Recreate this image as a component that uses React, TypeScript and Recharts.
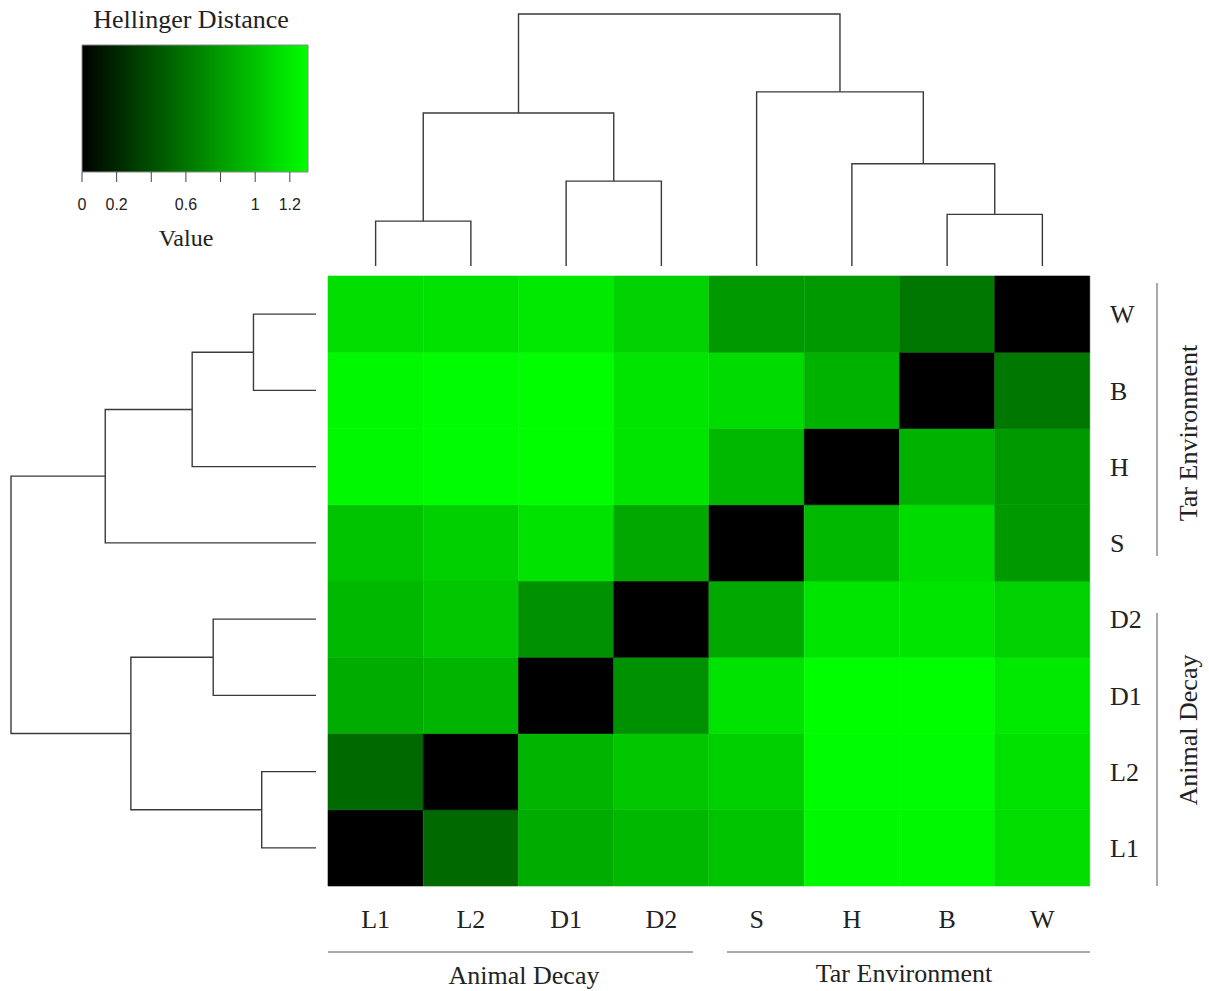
import React from "react"
import { BarChart, Bar, Cell, XAxis, YAxis, ScatterChart, Scatter, ComposedChart } from "recharts"

// samples, in the column order of the heatmap (rows use the same order, bottom to top)
const sampleLabels = ["L1", "L2", "D1", "D2", "S", "H", "B", "W"]

// Hellinger distances of each sample to L1, L2, D1, D2, S, H, B, W
const distL1 = [0, 0.54, 0.88, 0.94, 1.0, 1.27, 1.27, 1.14]
const distL2 = [0.54, 0, 0.92, 1.02, 1.06, 1.29, 1.29, 1.15]
const distD1 = [0.88, 0.92, 0, 0.74, 1.16, 1.3, 1.3, 1.2]
const distD2 = [0.94, 1.02, 0.74, 0, 0.86, 1.17, 1.17, 1.07]
const distS = [1.0, 1.06, 1.16, 0.86, 0, 0.94, 1.12, 0.79]
const distH = [1.27, 1.29, 1.3, 1.17, 0.94, 0, 0.91, 0.79]
const distB = [1.27, 1.29, 1.3, 1.17, 1.12, 0.91, 0, 0.61]
const distW = [1.14, 1.15, 1.2, 1.07, 0.79, 0.79, 0.61, 0]
const distRows = [distL1, distL2, distD1, distD2, distS, distH, distB, distW]

// cluster merges: [name, left, right, relative height]
const merges: [string, string, string, number][] = [
    ["L", "L1", "L2", 0.178],
    ["D", "D1", "D2", 0.337],
    ["LD", "L", "D", 0.607],
    ["BW", "B", "W", 0.205],
    ["HBW", "H", "BW", 0.406],
    ["T", "S", "HBW", 0.691],
    ["root", "LD", "T", 1.0],
]

const legendTicks = [0, 0.2, 0.4, 0.6, 0.8, 1, 1.2]
const legendLabelled = [0, 0.2, 0.6, 1, 1.2]
const scaleMax = 1.305

const serif = "'Liberation Serif', 'Times New Roman', serif"
const sans = "'Liberation Sans', Arial, sans-serif"
const ink = "#222"
const branch = "#3a3a3a"

const greenFor = (v: number) => `rgb(0, ${Math.round((255 * Math.min(v, scaleMax)) / scaleMax)}, 0)`

const heatData = sampleLabels.map((name) => {
    const row: Record<string, string | number> = { name }
    sampleLabels.forEach((s) => (row[s] = 1))
    return row
})

function buildBranches() {
    const pos: Record<string, { p: number; h: number }> = {}
    sampleLabels.forEach((s, i) => (pos[s] = { p: i + 0.5, h: 0 }))
    return merges.map(([name, a, b, h]) => {
        const pa = pos[a]
        const pb = pos[b]
        pos[name] = { p: (pa.p + pb.p) / 2, h }
        return [
            { p: pa.p, h: pa.h },
            { p: pa.p, h },
            { p: pb.p, h },
            { p: pb.p, h: pb.h },
        ]
    })
}

const branches = buildBranches()
const noDot = () => <g />

export default function App() {
    return (
        <div style={{ position: "absolute", left: 0, top: 0, width: 1209, height: 991, background: "#fff", fontFamily: serif }}>
            {/* heatmap */}
            <div style={{ position: "absolute", left: 0, top: 0 }}>
                <BarChart width={1209} height={991} data={heatData} barCategoryGap={0} barGap={0}
                    margin={{ top: 276, left: 328, right: 59, bottom: 65 }}>
                    <XAxis dataKey="name" axisLine={false} tickLine={false} tickSize={0} tickMargin={24} height={40}
                        tick={{ fontFamily: serif, fontSize: 26, fill: ink }} interval={0} />
                    <YAxis type="number" orientation="right" domain={[0, 8]} ticks={[0.5, 1.5, 2.5, 3.5, 4.5, 5.5, 6.5, 7.5]}
                        tickFormatter={(v) => sampleLabels[Math.floor(v)]} axisLine={false} tickLine={false} tickSize={0}
                        tickMargin={20} width={60} tick={{ fontFamily: serif, fontSize: 26, fill: ink }} />
                    {sampleLabels.map((rowName, r) => (
                        <Bar key={rowName} dataKey={rowName} stackId="heat" isAnimationActive={false}>
                            {sampleLabels.map((colName, c) => (
                                <Cell key={colName} fill={greenFor(distRows[r][c])} stroke={greenFor(distRows[r][c])} strokeWidth={0.6} />
                            ))}
                        </Bar>
                    ))}
                </BarChart>
            </div>

            {/* column dendrogram */}
            <div style={{ position: "absolute", left: 318, top: 4 }}>
                <ScatterChart width={782} height={272} margin={{ top: 10, right: 10, bottom: 10, left: 10 }}>
                    <XAxis type="number" dataKey="p" domain={[0, 8]} hide />
                    <YAxis type="number" dataKey="h" domain={[0, 1]} hide />
                    {branches.map((pts, i) => (
                        <Scatter key={i} data={pts} line={{ stroke: branch, strokeWidth: 1.4 }} shape={noDot} isAnimationActive={false} />
                    ))}
                </ScatterChart>
            </div>

            {/* row dendrogram */}
            <div style={{ position: "absolute", left: 1, top: 266 }}>
                <ScatterChart width={325} height={630} margin={{ top: 10, right: 10, bottom: 10, left: 10 }}>
                    <XAxis type="number" dataKey="h" domain={[0, 1]} reversed hide />
                    <YAxis type="number" dataKey="p" domain={[0, 8]} hide />
                    {branches.map((pts, i) => (
                        <Scatter key={i} data={pts} line={{ stroke: branch, strokeWidth: 1.4 }} shape={noDot} isAnimationActive={false} />
                    ))}
                </ScatterChart>
            </div>

            {/* colour key */}
            <div style={{ position: "absolute", left: 0, top: 0 }}>
                <ComposedChart width={330} height={230} layout="vertical" data={[{ name: "key", value: scaleMax }]}
                    barCategoryGap={0} margin={{ top: 45, left: 82, right: 22, bottom: 18 }}>
                    <defs>
                        <linearGradient id="keyGrad" x1="0" y1="0" x2="1" y2="0">
                            <stop offset="0%" stopColor="#000000" />
                            <stop offset="100%" stopColor="#00ff00" />
                        </linearGradient>
                    </defs>
                    <XAxis type="number" domain={[0, scaleMax]} ticks={legendTicks} axisLine={false}
                        tickSize={10} tickMargin={17} height={40} interval={0}
                        tickLine={{ stroke: "#444" }}
                        tickFormatter={(v) => (legendLabelled.includes(v) ? String(v) : "")}
                        tick={{ fontFamily: sans, fontSize: 16, fill: ink }} />
                    <YAxis type="category" dataKey="name" hide />
                    <Bar dataKey="value" fill="url(#keyGrad)" stroke="#888" strokeWidth={1} isAnimationActive={false} />
                </ComposedChart>
            </div>

            {/* titles and group brackets */}
            <svg width={1209} height={991} style={{ position: "absolute", left: 0, top: 0, pointerEvents: "none" }}>
                <text x={191} y={28} textAnchor="middle" fontFamily={serif} fontSize={26} fill={ink}>Hellinger Distance</text>
                <text x={186} y={246} textAnchor="middle" fontFamily={serif} fontSize={24} fill={ink}>Value</text>

                <line x1={328} y1={952} x2={693} y2={952} stroke="#555" strokeWidth={1} />
                <line x1={727} y1={952} x2={1090} y2={952} stroke="#555" strokeWidth={1} />
                <text x={524} y={984} textAnchor="middle" fontFamily={serif} fontSize={26} fill={ink}>Animal Decay</text>
                <text x={904} y={982} textAnchor="middle" fontFamily={serif} fontSize={26} fill={ink}>Tar Environment</text>

                <line x1={1157} y1={283} x2={1157} y2={556} stroke="#555" strokeWidth={1} />
                <line x1={1157} y1={613} x2={1157} y2={886} stroke="#555" strokeWidth={1} />
                <text x={1188} y={433} transform="rotate(-90 1188 433)" textAnchor="middle" dominantBaseline="central"
                    fontFamily={serif} fontSize={26} fill={ink}>Tar Environment</text>
                <text x={1188} y={730} transform="rotate(-90 1188 730)" textAnchor="middle" dominantBaseline="central"
                    fontFamily={serif} fontSize={26} fill={ink}>Animal Decay</text>
            </svg>
        </div>
    )
}
